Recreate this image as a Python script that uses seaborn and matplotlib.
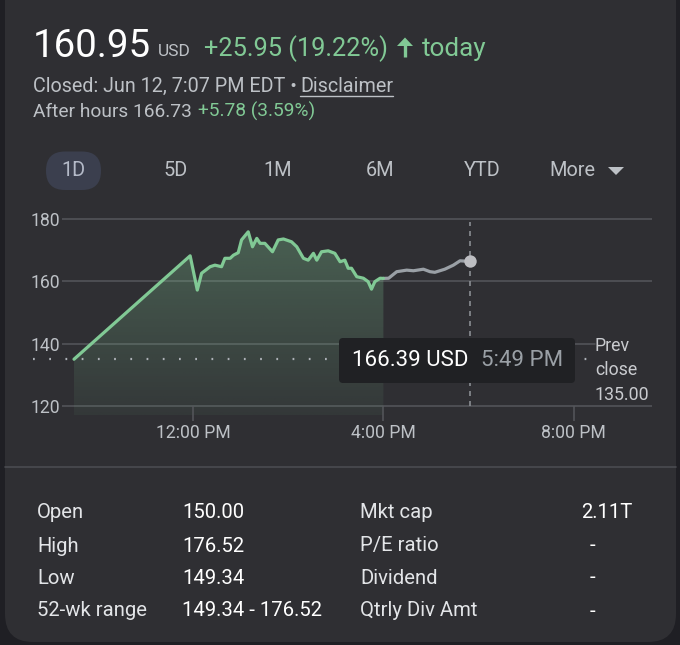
import numpy as np
import matplotlib
matplotlib.use("Agg")
import matplotlib.pyplot as plt
from matplotlib.patches import FancyBboxPatch, Polygon
import seaborn as sns

# [Data]====================================================================================================
# regular session, hours of the day (9.5 = 9:30 AM) and price in USD
market_hours = [9.5, 11.94, 12.09, 12.18, 12.36, 12.46, 12.60, 12.67, 12.78, 12.85, 12.95,
                13.02, 13.16, 13.25, 13.34, 13.41, 13.51, 13.67, 13.79, 13.90, 14.07, 14.18,
                14.32, 14.42, 14.53, 14.60, 14.70, 14.84, 14.98, 15.09, 15.19, 15.26, 15.33,
                15.44, 15.58, 15.68, 15.75, 15.82, 15.93, 16.0]
market_price = [135.0, 168.2, 157.2, 162.6, 164.7, 165.2, 164.7, 167.4, 167.4, 168.4, 169.2,
                173.3, 175.9, 171.1, 173.8, 172.2, 172.2, 169.5, 173.3, 173.6, 172.7, 171.1,
                167.4, 166.8, 169.0, 166.8, 169.5, 169.8, 169.0, 166.3, 166.8, 164.2, 164.2,
                161.5, 161.0, 159.9, 157.5, 159.9, 161.0, 160.95]
# after hours session
after_hours = [16.0, 16.11, 16.28, 16.49, 16.63, 16.84, 16.98, 17.08, 17.29, 17.47, 17.61, 17.82]
after_price = [160.95, 161.0, 163.1, 163.6, 163.4, 163.9, 163.1, 162.9, 163.9, 165.2, 166.6, 166.39]

prev_close = 135.00
y_levels = [120, 140, 160, 180]
x_ticks = [12, 16, 20]
x_labels = ["12:00 PM", "4:00 PM", "8:00 PM"]
ranges = ["1D", "5D", "1M", "6M", "YTD", "More"]

stat_names_left = ["Open", "High", "Low", "52-wk range"]
stat_values_left = ["150.00", "176.52", "149.34", "149.34 - 176.52"]
stat_names_right = ["Mkt cap", "P/E ratio", "Dividend", "Qtrly Div Amt"]
stat_values_right = ["2.11T", "-", "-", "-"]

# [Style]====================================================================================================
sns.set_theme(style="dark")
plt.rcParams['font.family'] = ['Roboto', 'DejaVu Sans']

OUTER = "#1f1f24"
CARD = "#2f2f33"
GREEN = "#81c995"
GREY_LINE = "#9aa0a6"
GRID = "#55575c"
TXT = "#bdc1c6"
WHITE = "#e3e5e8"

W, H = 680, 645
fig = plt.figure(figsize=(W / 100, H / 100), dpi=100, facecolor=OUTER)

# background canvas in pixel coords
back = fig.add_axes([0, 0, 1, 1], zorder=0)
back.set_xlim(0, W)
back.set_ylim(H, 0)
back.axis("off")
back.add_patch(FancyBboxPatch((5, -30), 671, 672, boxstyle="round,pad=0,rounding_size=28",
                              fc=CARD, ec="none"))

# header
back.text(33, 57, "160.95", fontsize=27.6, color="white", va="baseline")
back.text(158, 56, "USD", fontsize=12.5, color=TXT, va="baseline")
back.text(204, 56, "+25.95 (19.22%)", fontsize=18.3, color=GREEN, va="baseline")
# up arrow
back.add_patch(Polygon([[397, 46], [405, 37.5], [413, 46]], closed=True, fc=GREEN, ec="none"))
back.plot([405, 405], [44, 57], color=GREEN, lw=2.4, solid_capstyle="butt")
back.text(422, 56, "today", fontsize=18.8, color=GREEN, va="baseline")

back.text(33, 92, "Closed: Jun 12, 7:07 PM EDT \u2022", fontsize=14.2, color=TXT, va="baseline")
back.text(300, 92, "Disclaimer", fontsize=14.2, color=TXT, va="baseline")
back.plot([300, 393], [95.5, 95.5], color=TXT, lw=1)
back.text(33, 117, "After hours 166.73", fontsize=13.8, color=TXT, va="baseline")
back.text(198, 117, "+5.78 (3.59%)", fontsize=13.8, color=GREEN, va="baseline")

# range selector
range_x = [73.5, 175.5, 277.5, 380, 482, 572]
back.add_patch(FancyBboxPatch((46, 151.5), 55, 38.5, boxstyle="round,pad=0,rounding_size=19",
                              fc="#3b3f4e", ec="none"))
for rx, lab in zip(range_x, ranges):
    back.text(rx, 171, lab, fontsize=14.3, color="#b4bac8" if lab == "1D" else TXT,
              ha="center", va="center")
back.add_patch(Polygon([[608, 167], [624, 167], [616, 175]], closed=True, fc=TXT, ec="none"))

# separator
back.plot([5, 676], [467, 467], color="#4a4b50", lw=1.2)

# stats table
row_y = [513, 546, 578, 611]
for i, ry in enumerate(row_y):
    back.text(37, ry, stat_names_left[i], fontsize=14.6, color=WHITE, va="center")
    back.text(182, ry, stat_values_left[i], fontsize=14.6, color="white", va="center")
    back.text(360, ry, stat_names_right[i], fontsize=14.6, color=WHITE, va="center")
    if stat_values_right[i] == "-":
        back.text(590, ry, stat_values_right[i], fontsize=14.6, color="white", va="center")
    else:
        back.text(632, ry, stat_values_right[i], fontsize=14.6, color="white", va="center",
                  ha="right")

# [Chart]====================================================================================================
px_per_h = 47.6
x_left, x_right = 62, 652
x0 = 12 + (x_left - 193) / px_per_h
x1 = 12 + (x_right - 193) / px_per_h
y_lo, y_hi = 117, 183
top_px, bot_px = 209.7, 415.3

ax = fig.add_axes([x_left / W, (H - bot_px) / H, (x_right - x_left) / W, (bot_px - top_px) / H],
                  zorder=2)
ax.set_facecolor("none")
for s in ax.spines.values():
    s.set_visible(False)

# grid lines (140 stops before the prev close label)
for lv in y_levels:
    ax.axhline(lv, xmin=0, xmax=0.903 if lv == 140 else 1, color=GRID, lw=1.1, zorder=1)

# previous close dotted line
ax.plot([12 + (33 - 193) / px_per_h, 12 + (592 - 193) / px_per_h], [prev_close, prev_close],
        color="#aeb2b8", lw=1.6, dashes=(0.8, 6.5), clip_on=False, zorder=2)

# gradient fill under the regular session line
poly = ax.fill_between(market_hours, market_price, y_lo, color="none", lw=0)
grad = np.zeros((100, 2, 4))
grad[..., :3] = matplotlib.colors.to_rgb(GREEN)
grad[..., 3] = np.linspace(0.32, 0.06, 100)[:, None]
im = ax.imshow(grad, extent=[market_hours[0], market_hours[-1], y_lo, max(market_price)],
               aspect="auto", origin="upper", zorder=1.5)
im.set_clip_path(poly.get_paths()[0], transform=ax.transData)
ax.set_xlim(x0, x1)
ax.set_ylim(y_lo, y_hi)

sns.lineplot(x=after_hours, y=after_price, ax=ax, color=GREY_LINE, lw=2.3, sort=False,
             estimator=None, zorder=3)
sns.lineplot(x=market_hours, y=market_price, ax=ax, color=GREEN, lw=2.3, sort=False,
             estimator=None, zorder=4)

# hover marker
ax.axvline(after_hours[-1], ymin=(120 - y_lo) / (y_hi - y_lo), ymax=(179 - y_lo) / (y_hi - y_lo),
           color="#8a8d92", lw=1.2, dashes=(3, 3), zorder=2)
ax.scatter([after_hours[-1]], [after_price[-1]], s=80, color="#bdbec2", zorder=5, lw=0)

# ticks
ax.set_yticks(y_levels)
ax.set_yticklabels([str(v) for v in y_levels], fontsize=12.7, color=TXT)
ax.set_xticks(x_ticks)
ax.set_xticklabels(x_labels, fontsize=12.7, color=TXT)
ax.tick_params(axis="y", length=0, pad=1.5)
ax.tick_params(axis="x", length=0, pad=6)
ax.vlines(x_ticks, 115.3, 120, color=GRID, lw=1.1, clip_on=False)

# tooltip and prev close label on top
front = fig.add_axes([0, 0, 1, 1], zorder=5)
front.set_xlim(0, W)
front.set_ylim(H, 0)
front.axis("off")
front.patch.set_alpha(0)
front.add_patch(FancyBboxPatch((339, 338), 236, 45, boxstyle="round,pad=0,rounding_size=4",
                               fc="#202124", ec="none"))
front.text(352, 360, "166.39 USD", fontsize=16, color="white", va="center")
front.text(481, 360, "5:49 PM", fontsize=16, color=GREY_LINE, va="center")

for ty, line in zip([346, 370, 395], ["Prev", "close", f"{prev_close:.2f}"]):
    front.text(595, ty, line, fontsize=12.8, color="#c9cbcf", va="center", ha="left")

fig.savefig("out.png", dpi=100, facecolor=OUTER)
